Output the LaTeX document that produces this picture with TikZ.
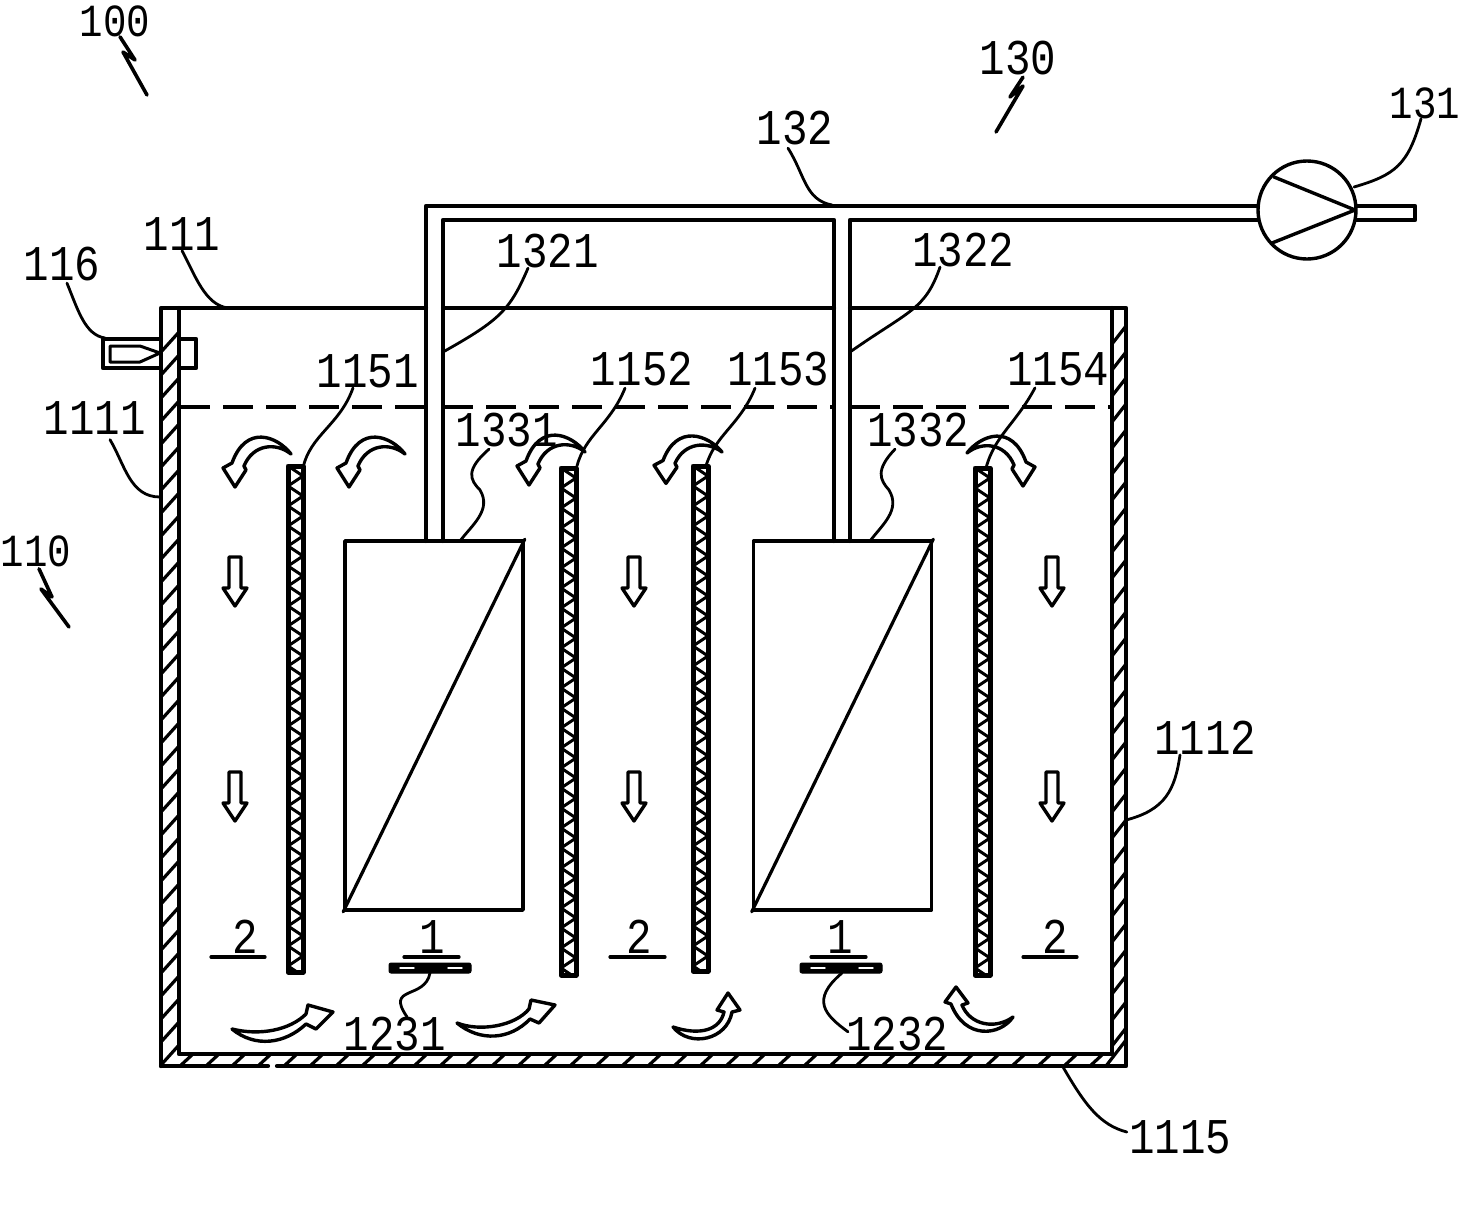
\documentclass[tikz,border=0pt]{standalone}
\usepackage{fontspec}
\setmainfont[FakeStretch=0.85]{Liberation Mono}
\begin{document}
\begin{tikzpicture}[x=1pt,y=-1pt,line join=round,line cap=round,
  wall/.style={line width=4.2pt},
  hatch/.style={line width=3.2pt},
  zig/.style={line width=3pt},
  lead/.style={line width=2.8pt},
  spark/.style={line width=3.6pt},
  flow/.style={line width=3.4pt,fill=white,draw=black},
  level/.style={line width=3.2pt,dash pattern=on 30pt off 13pt,line cap=butt},
  lab/.style={inner sep=0pt,font=\fontsize{50}{50}\selectfont},
  labsmall/.style={inner sep=0pt,font=\fontsize{46}{46}\selectfont},
  box/.style={draw,line width=3.6pt,minimum width=178pt,minimum height=369pt,inner sep=0pt},
  pump/.style={draw,circle,line width=3.4pt,minimum size=98pt,inner sep=0pt},
  diffuser/.style={draw=black,fill=black,line width=1pt,minimum width=82pt,minimum height=10pt,inner sep=0pt,rounded corners=2pt},
  uline/.style={line width=3.2pt}]
\useasboundingbox (0,0) rectangle (1461,1210);
\fill[white] (0,0) rectangle (1461,1210);

% ---- tank walls
\foreach \y in {332,355,...,1045} \draw[hatch] (179,\y) -- (161,\y+20);
\foreach \y in {326,352,...,1040} \draw[hatch] (1126,\y) -- (1112,\y+18);
\foreach \x in {180,206,...,1100} \draw[hatch] (\x,1066) -- (\x+13,1054);
\draw[hatch] (1126,1040) -- (1106,1066);
\draw[wall] (161,1066) -- (161,308) -- (426,308);
\draw[wall] (443,308) -- (834,308);
\draw[wall] (850,308) -- (1126,308) -- (1126,1066) -- (277,1066);
\draw[wall] (268,1066) -- (161,1066);
\draw[wall] (179,308) -- (179,1054) -- (1112,1054) -- (1112,308);
% water level
\draw[level] (180,407) -- (426,407);
\draw[level] (443,407) -- (834,407);
\draw[level] (850,407) -- (1112,407);

% ---- baffles
\foreach \xa/\ya/\yb in {288/466/972,561/468/975,693/466/971,975/468/975}{
  \begin{scope}
  \clip (\xa,\ya) rectangle (\xa+16,\yb);
  \foreach \k in {0,1,...,26}{
    \draw[zig] (\xa,\ya+20*\k) -- (\xa+15,\ya+10+20*\k);
    \draw[zig] (\xa+15,\ya+10+20*\k) -- (\xa,\ya+20+20*\k);
  }
  \end{scope}
  \draw[wall,line width=5pt] (\xa,\yb) -- (\xa,\ya) -- (\xa+15,\ya) -- (\xa+15,\yb) -- cycle;
}

% ---- membrane modules
\node[box] (m1) at (434,725.5) {};
\node[box] (m2) at (842.5,725.5) {};
\draw[line width=3.2pt] (m1.south west) -- (m1.north east);
\draw[line width=3.2pt] (m2.south west) -- (m2.north east);

% ---- pump and pipes
\node[pump] (p) at (1307,210) {};
\coordinate (pl) at (426,541); \coordinate (pr) at (443,541);
\coordinate (ql) at (834,541); \coordinate (qr) at (850,541);
\coordinate (pt) at (1258,206); \coordinate (pb) at (1258,220);
\coordinate (ot) at (1356,206); \coordinate (ob) at (1356,220);
\draw[wall] (pl) -- (426,206) -- (pt);
\draw[wall] (pr) -- (443,220) -- (834,220) -- (ql);
\draw[wall] (qr) -- (850,220) -- (pb);
\draw[wall] (ot) -- (1415,206) -- (1415,220) -- (ob);
\draw[line width=3.4pt] (1274,177) -- (1355,210) -- (1272,243);

% ---- inlet fitting
\draw[wall] (161,339) -- (103,339) -- (103,368) -- (161,368);
\draw[wall] (179,339) -- (196,339) -- (196,368) -- (179,368);
\draw[line width=3pt] (110,346) -- (140,346) -- (160,353) -- (140,362) -- (110,362) -- cycle;

% ---- diffusers and section marks
\node[diffuser] (d1) at (430,968) {};
\node[diffuser] (d2) at (841,968) {};
\draw[white,line width=1.4pt] (400,968) -- (414,968) (448,968) -- (462,968);
\draw[white,line width=1.4pt] (811,968) -- (825,968) (859,968) -- (873,968);
\node[lab] (s1) at (432,937) {1};
\node[lab] (s2) at (840,937) {1};
\node[lab] (h1) at (245,937) {2};
\node[lab] (h2) at (639,937) {2};
\node[lab] (h3) at (1055,937) {2};
\draw[uline] (404,957) -- (459,957);
\draw[uline] (811,957) -- (866,957);
\draw[uline] (211,957) -- (265,957);
\draw[uline] (610,957) -- (665,957);
\draw[uline] (1023,957) -- (1077,957);

% ---- straight flow arrows
\foreach \x/\y in {235/557,235/772,634/557,634/772,1052/557,1052/772}{
  \draw[flow] (\x-6,\y) -- (\x+6,\y) -- (\x+6,\y+31) -- (\x+12,\y+31) -- (\x,\y+49) -- (\x-12,\y+31) -- (\x-6,\y+31) -- cycle;
}

% ---- curved flow arrows, top
\foreach \x/\y/\sy/\m in {291/454/1/1,405/454/1/1,585/452/1/1,722/452/.95/1,967/453/1/-1}{
  \begin{scope}[shift={(\x,\y)},xscale=\m,yscale=\sy]
  \draw[flow] (0,0) .. controls (-14,-18) and (-45,-30) .. (-59,9) -- (-68,14) -- (-56,33) -- (-45,16) -- (-47,12) .. controls (-38,-10) and (-15,-12) .. (0,0) -- cycle;
  \end{scope}
}
% ---- curved flow arrows, bottom
\draw[flow] (232,1029) .. controls (255,1048) and (285,1044) .. (306,1024) -- (316,1029) -- (333,1012) -- (308,1005) -- (306,1014) .. controls (290,1030) and (260,1036) .. (232,1029) -- cycle;
\draw[flow] (457,1023) .. controls (480,1042) and (510,1040) .. (530,1019) -- (539,1023) -- (555,1005) -- (531,1000) -- (529,1009) .. controls (515,1026) and (480,1032) .. (457,1023) -- cycle;
\draw[flow] (673,1027) .. controls (690,1048) and (727,1040) .. (732,1012) -- (740,1010) -- (728,993) -- (717,1010) -- (724,1012) .. controls (720,1030) and (700,1036) .. (673,1027) -- cycle;
\draw[flow] (1013,1017) .. controls (1000,1036) and (965,1040) .. (951,1004) -- (945,1002) -- (956,987) -- (968,1003) -- (962,1005) .. controls (970,1025) and (995,1030) .. (1013,1017) -- cycle;

% ---- labels
\node[labsmall] (t100) at (115,21) {100};
\node[lab] (t130) at (1018,58) {130};
\node[labsmall] (t131) at (1425,103) {131};
\node[lab] (t132) at (795,128) {132};
\node[lab] (t111) at (182,234) {111};
\node[lab] (t116) at (62,264) {116};
\node[lab] (t1111) at (95,418) {1111};
\node[labsmall] (t110) at (36,551) {110};
\node[lab] (t1321) at (548,251) {1321};
\node[lab] (t1322) at (963,250) {1322};
\node[lab] (t1151) at (368,371) {1151};
\node[lab] (t1152) at (642,369) {1152};
\node[lab] (t1153) at (778,369) {1153};
\node[lab] (t1154) at (1058,369) {1154};
\node[lab] (t1331) at (507,430) {1331};
\node[lab] (t1332) at (918,430) {1332};
\node[lab] (t1112) at (1205,738) {1112};
\node[lab] (t1115) at (1180,1137) {1115};
\node[lab] (t1231) at (395,1034) {1231};
\node[lab] (t1232) at (897,1034) {1232};

% ---- leader end points
\coordinate (e131) at (1354,187);
\coordinate (e132) at (832,205);
\coordinate (e111) at (228,308);
\coordinate (e116) at (105,338);
\coordinate (e1111) at (160,497);
\coordinate (e1321) at (443,352);
\coordinate (e1322) at (850,352);
\coordinate (e1151) at (303,468);
\coordinate (e1152) at (577,466);
\coordinate (e1153) at (706,466);
\coordinate (e1154) at (986,468);
\coordinate (e1331) at (460,541);
\coordinate (e1332) at (870,541);
\coordinate (e1231) at (430,973);
\coordinate (e1232) at (842,973);
\coordinate (e1112) at (1126,820);
\coordinate (e1115) at (1063,1067);
\coordinate (e100) at (147,95);
\coordinate (e130) at (996,132);
\coordinate (e110) at (69,627);

% ---- leaders
\draw[lead] ([xshift=-4pt]t131.south) .. controls (1408,165) and (1395,175) .. (e131);
\draw[lead] ([xshift=-7pt,yshift=-3pt]t132.south) .. controls (805,175) and (805,200) .. (e132);
\draw[lead] (t111.south) .. controls (195,275) and (205,305) .. (e111);
\draw[lead] ([xshift=5pt,yshift=-2pt]t116.south) .. controls (78,310) and (85,335) .. (e116);
\draw[lead] ([xshift=15pt,yshift=-5pt]t1111.south) .. controls (125,465) and (130,497) .. (e1111);
\draw[lead] ([xshift=-20pt]t1321.south) .. controls (510,310) and (500,320) .. (e1321);
\draw[lead] ([xshift=-23pt]t1322.south) .. controls (925,310) and (910,310) .. (e1322);
\draw[lead] ([xshift=-15pt]t1151.south) .. controls (340,425) and (310,435) .. (e1151);
\draw[lead] ([xshift=-17pt,yshift=-2pt]t1152.south) .. controls (610,425) and (585,435) .. (e1152);
\draw[lead] ([xshift=-23pt,yshift=-2pt]t1153.south) .. controls (740,425) and (715,435) .. (e1153);
\draw[lead] ([xshift=-23pt,yshift=-2pt]t1154.south) .. controls (1015,425) and (995,435) .. (e1154);
\draw[lead] ([xshift=-18pt,yshift=-2pt]t1331.south) .. controls (465,470) and (470,480) .. (480,490) .. controls (492,510) and (472,525) .. (e1331);
\draw[lead] ([xshift=-23pt,yshift=-2pt]t1332.south) .. controls (875,470) and (880,480) .. (889,490) .. controls (901,510) and (882,525) .. (e1332);
\draw[lead] (e1231) .. controls (425,1000) and (385,985) .. ([xshift=12pt]t1231.north);
\draw[lead] (e1232) .. controls (810,1000) and (825,1015) .. ([xshift=-49pt,yshift=-15pt]t1232.north);
\draw[lead] ([xshift=-25pt]t1112.south) .. controls (1175,790) and (1165,810) .. (e1112);
\draw[lead] (e1115) .. controls (1085,1105) and (1100,1125) .. ([xshift=-2pt,yshift=5pt]t1115.west);
\draw[spark] ([xshift=5pt]t100.south) -- (135,60) -- (123,52) -- (e100);
\draw[spark] ([xshift=5pt,yshift=-2pt]t130.south) -- (1010,97) -- (1023,86) -- (e130);
\draw[spark] ([xshift=3pt,yshift=-2pt]t110.south) -- (52,597) -- (41,589) -- (e110);
\end{tikzpicture}
\end{document}
